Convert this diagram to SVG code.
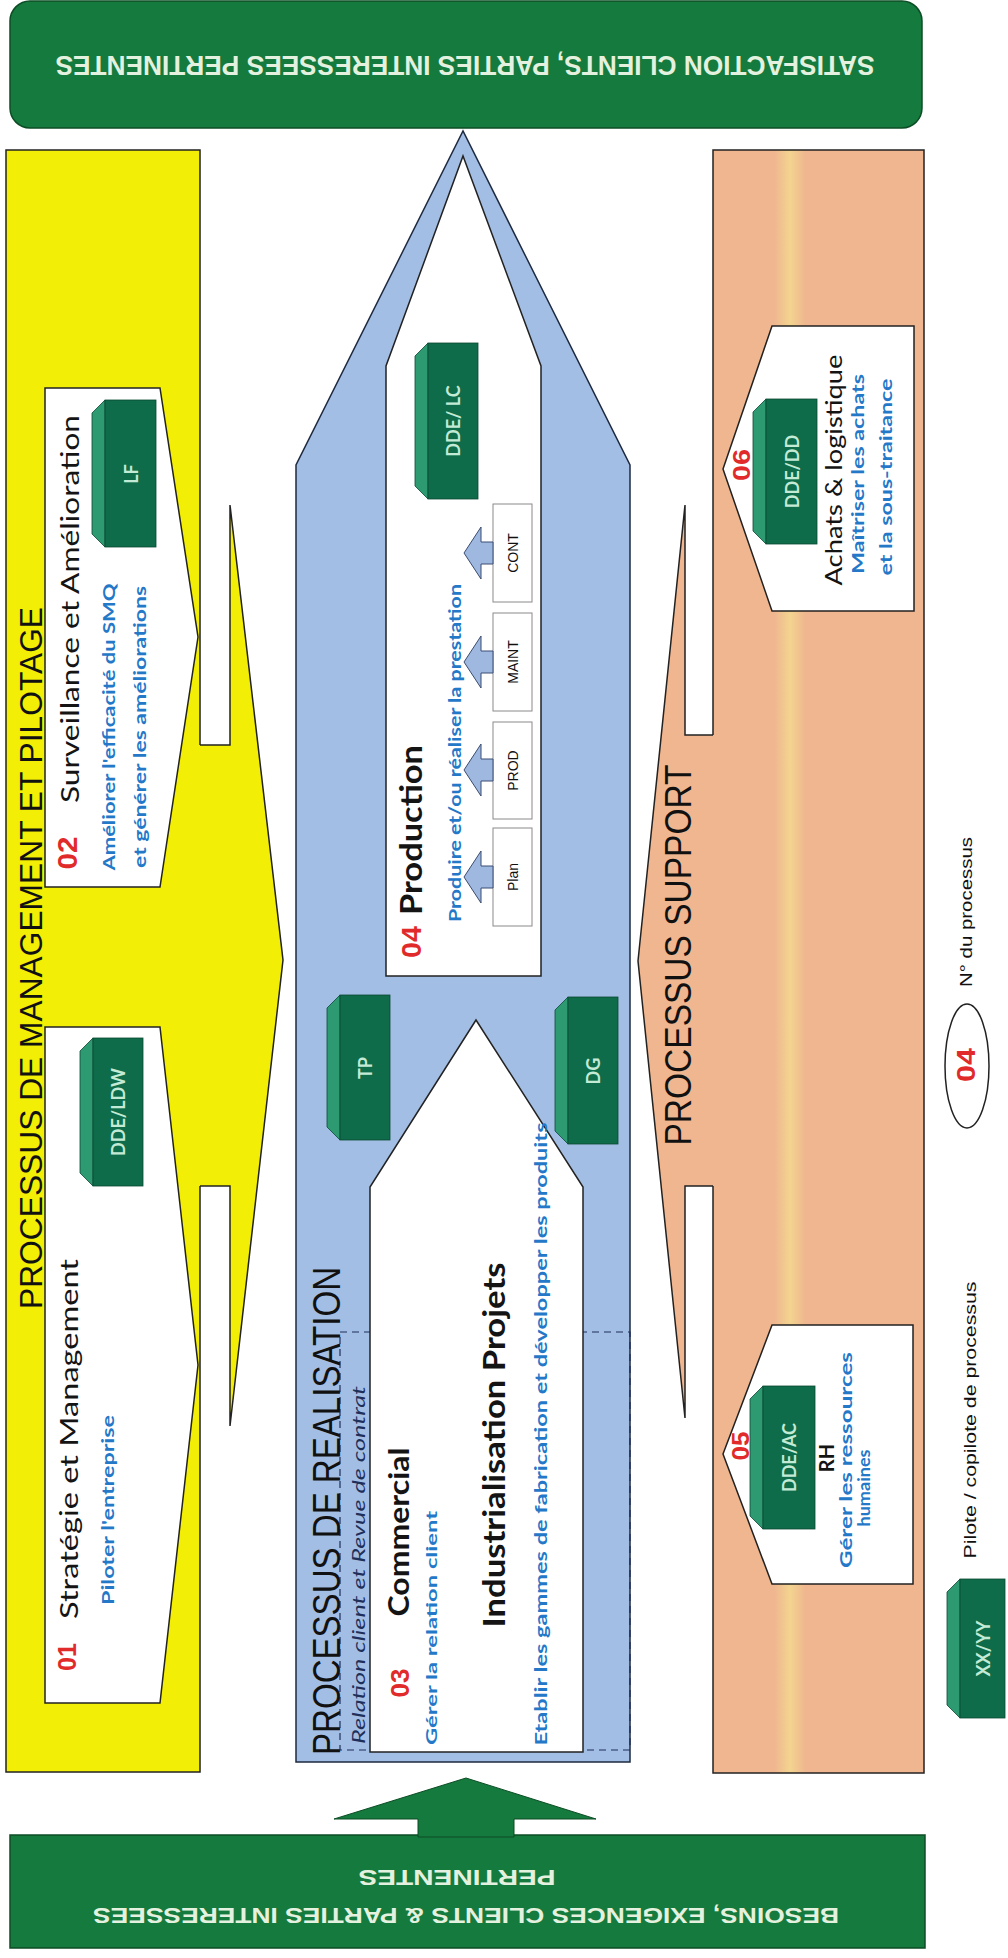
<svg xmlns="http://www.w3.org/2000/svg" width="1008" height="1958" viewBox="0 0 1008 1958">
<defs>
<linearGradient id="peach" x1="713" y1="0" x2="924" y2="0" gradientUnits="userSpaceOnUse">
<stop offset="0" stop-color="#efb68f"/>
<stop offset="0.29" stop-color="#efb68f"/>
<stop offset="0.365" stop-color="#f3d48f"/>
<stop offset="0.44" stop-color="#efb68f"/>
<stop offset="1" stop-color="#efb68f"/>
</linearGradient>
<style>
.bar{fill:#157a3d;stroke:#0c4d25;stroke-width:1.5}
.bartxt{font-family:"Liberation Sans",Arial,sans-serif;font-weight:bold;fill:#e4f1df;text-anchor:middle;dominant-baseline:central}
.ttl{font-family:"Liberation Sans",Arial,sans-serif;fill:#111;text-anchor:middle;dominant-baseline:central}
.node{fill:#fff;stroke:#222;stroke-width:1.5}
.num{font-family:"Liberation Sans",Arial,sans-serif;font-weight:bold;fill:#e12a2a;text-anchor:middle;dominant-baseline:central}
.name{font-family:Lato,"Open Sans",sans-serif;fill:#141414;text-anchor:middle;dominant-baseline:central}
.desc{font-family:Lato,"Open Sans",sans-serif;font-weight:bold;fill:#2478c8;text-anchor:middle;dominant-baseline:central}
.side{fill:#2d9a72;stroke:#0a4a33;stroke-width:0.8}
.front{fill:#0e6c4a;stroke:#0a4a33;stroke-width:0.8}
.btxt{font-family:Lato,"Open Sans",sans-serif;font-weight:bold;fill:#c3ead5;text-anchor:middle;dominant-baseline:central;font-size:18px}
.sub{fill:#fff;stroke:#8a8a8a;stroke-width:1}
.subtxt{font-family:"Liberation Sans",Arial,sans-serif;fill:#111;text-anchor:middle;dominant-baseline:central;font-size:14px}
.sarrow{fill:#9fb8e0;stroke:#3a4c70;stroke-width:1}
.outline{fill:none;stroke:#222;stroke-width:1.5}
.leg{font-family:"Liberation Sans",Arial,sans-serif;fill:#111;text-anchor:middle;dominant-baseline:central;font-size:16px}
</style>
</defs>
<rect width="1008" height="1958" fill="#ffffff"/>

<!-- Top bar -->
<g id="satisfaction">
<rect class="bar" x="10" y="1" width="912" height="127" rx="20"/>
<text class="bartxt" x="465" y="65" font-size="27" transform="rotate(180 465 65)" textLength="819" lengthAdjust="spacingAndGlyphs">SATISFACTION CLIENTS, PARTIES INTERESSEES PERTINENTES</text>
</g>

<!-- Management column -->
<g id="management">
<rect x="6" y="150" width="194" height="1622" fill="#f2ee05" stroke="#222" stroke-width="1.5"/>
<polygon points="195,745 230,745 230,505 283,960 230,1426 230,1186 195,1186" fill="#f2ee05"/>
<polyline class="outline" points="200,745 230,745 230,505 283,960 230,1426 230,1186 200,1186"/>
<text class="ttl" x="31" y="958" font-size="32" transform="rotate(-90 31 958)" textLength="702" lengthAdjust="spacingAndGlyphs">PROCESSUS DE MANAGEMENT ET PILOTAGE</text>
</g>

<g id="node01">
<polygon class="node" points="45,1027 160,1027 198,1365 160,1703 45,1703"/>
<text class="num" x="67" y="1657" font-size="26" transform="rotate(-90 67 1657)" textLength="28" lengthAdjust="spacingAndGlyphs">01</text>
<text class="name" x="68" y="1439" font-size="25" transform="rotate(-90 68 1439)" textLength="360" lengthAdjust="spacingAndGlyphs">Stratégie et Management</text>
<text class="desc" x="107" y="1510" font-size="17" transform="rotate(-90 107 1510)" textLength="190" lengthAdjust="spacingAndGlyphs">Piloter l'entreprise</text>
<polygon class="side" points="80,1051 93,1038 93,1186 80,1173"/>
<rect class="front" x="93" y="1038" width="50" height="148"/>
<text class="btxt" x="118" y="1112" transform="rotate(-90 118 1112)">DDE/LDW</text>
</g>

<g id="node02">
<polygon class="node" points="45,388 160,388 198,637 160,887 45,887"/>
<text class="num" x="67" y="853" font-size="28" transform="rotate(-90 67 853)" textLength="33" lengthAdjust="spacingAndGlyphs">02</text>
<text class="name" x="69" y="609" font-size="25" transform="rotate(-90 69 609)" textLength="388" lengthAdjust="spacingAndGlyphs">Surveillance et Amélioration</text>
<text class="desc" x="108" y="727" font-size="17" transform="rotate(-90 108 727)" textLength="287" lengthAdjust="spacingAndGlyphs">Améliorer l'efficacité du SMQ</text>
<text class="desc" x="139" y="727" font-size="17" transform="rotate(-90 139 727)" textLength="282" lengthAdjust="spacingAndGlyphs">et générer les améliorations</text>
<polygon class="side" points="92,413 105,400 105,547 92,534"/>
<rect class="front" x="105" y="400" width="51" height="147"/>
<text class="btxt" x="130.5" y="474" transform="rotate(-90 130.5 474)">LF</text>
</g>

<!-- Realisation column -->
<g id="realisation">
<polygon points="296,1762 296,465 463,131 630,465 630,1762" fill="#a3bee4" stroke="#1e2a40" stroke-width="1.5"/>
<rect x="340" y="1332" width="290" height="418" fill="none" stroke="#1e2f5a" stroke-width="1.2" stroke-dasharray="7,5"/>
<text class="ttl" x="327" y="1511" font-size="38" transform="rotate(-90 327 1511)" textLength="488" lengthAdjust="spacingAndGlyphs">PROCESSUS DE REALISATION</text>
<text x="358" y="1565" font-family="Lato,'Open Sans',sans-serif" font-style="italic" font-size="17" fill="#1e2f5a" text-anchor="middle" dominant-baseline="central" transform="rotate(-90 358 1565)" textLength="358" lengthAdjust="spacingAndGlyphs">Relation client et Revue de contrat</text>
</g>

<g id="node03">
<polygon class="node" points="370,1752 370,1187 476,1020 583,1187 583,1752"/>
<text class="num" x="400" y="1683" font-size="26" transform="rotate(-90 400 1683)" textLength="29" lengthAdjust="spacingAndGlyphs">03</text>
<text class="name" x="398" y="1532" font-size="28" font-weight="bold" transform="rotate(-90 398 1532)" textLength="169" lengthAdjust="spacingAndGlyphs">Commercial</text>
<text class="desc" x="430" y="1628" font-size="16" transform="rotate(-90 430 1628)" textLength="234" lengthAdjust="spacingAndGlyphs">Gérer la relation client</text>
<text class="name" x="493" y="1445" font-size="30" font-weight="bold" transform="rotate(-90 493 1445)" textLength="365" lengthAdjust="spacingAndGlyphs">Industrialisation Projets</text>
<text class="desc" x="540" y="1434" font-size="17" transform="rotate(-90 540 1434)" textLength="623" lengthAdjust="spacingAndGlyphs">Etablir les gammes de fabrication et développer les produits</text>
</g>

<g id="pilot-tp">
<polygon class="side" points="327,1008 340,995 340,1140 327,1127"/>
<rect class="front" x="340" y="995" width="50" height="145"/>
<text class="btxt" x="365" y="1068" transform="rotate(-90 365 1068)">TP</text>
</g>
<g id="pilot-dg">
<polygon class="side" points="555,1010 568,997 568,1144 555,1131"/>
<rect class="front" x="568" y="997" width="50" height="147"/>
<text class="btxt" x="593" y="1071" transform="rotate(-90 593 1071)">DG</text>
</g>

<g id="node04">
<polygon class="node" points="386,976 386,366 463,156 541,366 541,976"/>
<text class="num" x="411" y="942" font-size="28" transform="rotate(-90 411 942)" textLength="32" lengthAdjust="spacingAndGlyphs">04</text>
<text class="name" x="410" y="830" font-size="30" font-weight="bold" transform="rotate(-90 410 830)" textLength="170" lengthAdjust="spacingAndGlyphs">Production</text>
<text class="desc" x="454" y="753" font-size="17" transform="rotate(-90 454 753)" textLength="338" lengthAdjust="spacingAndGlyphs">Produire et/ou réaliser la prestation</text>
<polygon class="side" points="415,356 428,343 428,499 415,486"/>
<rect class="front" x="428" y="343" width="50" height="156"/>
<text class="btxt" x="453" y="421" transform="rotate(-90 453 421)">DDE/ LC</text>
</g>

<g id="sub-plan">
<rect class="sub" x="493" y="828" width="39" height="98"/>
<text class="subtxt" x="512.5" y="877" transform="rotate(-90 512.5 877)">Plan</text>
</g>
<g id="sub-prod">
<rect class="sub" x="493" y="722" width="39" height="97"/>
<text class="subtxt" x="512.5" y="770.5" transform="rotate(-90 512.5 770.5)">PROD</text>
</g>
<g id="sub-maint">
<rect class="sub" x="493" y="613" width="39" height="98"/>
<text class="subtxt" x="512.5" y="662" transform="rotate(-90 512.5 662)">MAINT</text>
</g>
<g id="sub-cont">
<rect class="sub" x="493" y="504" width="39" height="98"/>
<text class="subtxt" x="512.5" y="553" transform="rotate(-90 512.5 553)">CONT</text>
</g>

<g id="connectors">
<polygon class="sarrow" points="464,877 481,851 481,866 493,866 493,888 481,888 481,903"/>
<polygon class="sarrow" points="464,770 481,744 481,759 493,759 493,781 481,781 481,796"/>
<polygon class="sarrow" points="464,662 481,636 481,651 493,651 493,673 481,673 481,688"/>
<polygon class="sarrow" points="464,553 481,527 481,542 493,542 493,564 481,564 481,579"/>
</g>

<!-- Support column -->
<g id="support">
<rect x="713" y="150" width="211" height="1623" fill="url(#peach)" stroke="#222" stroke-width="1.5"/>
<polygon points="718,735 685,735 685,505 638,961 685,1418 685,1186 718,1186" fill="#efb68f"/>
<polyline class="outline" points="713,735 685,735 685,505 638,961 685,1418 685,1186 713,1186"/>
<text class="ttl" x="678" y="955" font-size="37" transform="rotate(-90 678 955)" textLength="381" lengthAdjust="spacingAndGlyphs">PROCESSUS SUPPORT</text>
</g>

<g id="node06">
<polygon class="node" points="772,326 914,326 914,611 772,611 723,469"/>
<polygon class="side" points="753,412 766,399 766,544 753,531"/>
<rect class="front" x="766" y="399" width="51" height="145"/>
<text class="btxt" x="791.5" y="471.5" transform="rotate(-90 791.5 471.5)">DDE/DD</text>
<text class="num" x="741" y="465" font-size="24" transform="rotate(-90 741 465)" textLength="32" lengthAdjust="spacingAndGlyphs">06</text>
<text class="name" x="832" y="470" font-size="24" transform="rotate(-90 832 470)" textLength="231" lengthAdjust="spacingAndGlyphs">Achats &amp; logistique</text>
<text class="desc" x="857" y="474" font-size="17" transform="rotate(-90 857 474)" textLength="200" lengthAdjust="spacingAndGlyphs">Maîtriser les achats</text>
<text class="desc" x="885" y="477" font-size="17" transform="rotate(-90 885 477)" textLength="197" lengthAdjust="spacingAndGlyphs">et la sous-traitance</text>
</g>

<g id="node05">
<polygon class="node" points="772,1325 913,1325 913,1584 772,1584 723,1454"/>
<polygon class="side" points="750,1399 763,1386 763,1529 750,1516"/>
<rect class="front" x="763" y="1386" width="52" height="143"/>
<text class="btxt" x="789" y="1457.5" transform="rotate(-90 789 1457.5)">DDE/AC</text>
<text class="num" x="740" y="1446" font-size="24" transform="rotate(-90 740 1446)" textLength="29" lengthAdjust="spacingAndGlyphs">05</text>
<text class="name" x="826" y="1458" font-size="20" font-weight="bold" transform="rotate(-90 826 1458)">RH</text>
<text class="desc" x="845" y="1460" font-size="17" transform="rotate(-90 845 1460)" textLength="216" lengthAdjust="spacingAndGlyphs">Gérer les ressources</text>
<text class="desc" x="863" y="1488" font-size="17" transform="rotate(-90 863 1488)" textLength="77" lengthAdjust="spacingAndGlyphs">humaines</text>
</g>

<!-- Bottom bar -->
<g id="besoins">
<rect class="bar" x="10" y="1835" width="915" height="113"/>
<polygon points="334,1819 466,1778 596,1819 514,1819 514,1837 418,1837 418,1819" fill="#157a3d" stroke="#0c4d25" stroke-width="1"/>
<text class="bartxt" x="466" y="1915" font-size="22" transform="rotate(180 466 1915)" textLength="746" lengthAdjust="spacingAndGlyphs">BESOINS, EXIGENCES CLIENTS &amp; PARTIES INTERESSEES</text>
<text class="bartxt" x="457" y="1877" font-size="22" transform="rotate(180 457 1877)" textLength="197" lengthAdjust="spacingAndGlyphs">PERTINENTES</text>
</g>

<!-- Legend -->
<g id="legend-number">
<ellipse cx="967" cy="1066" rx="22" ry="62" fill="#fff" stroke="#222" stroke-width="1.5"/>
<text class="num" x="966" y="1065" font-size="26" transform="rotate(-90 966 1065)" textLength="34" lengthAdjust="spacingAndGlyphs">04</text>
<text class="leg" x="966" y="912" transform="rotate(-90 966 912)" textLength="150" lengthAdjust="spacingAndGlyphs">N° du processus</text>
</g>
<g id="legend-pilot">
<polygon class="side" points="947,1592 960,1579 960,1718 947,1705"/>
<rect class="front" x="960" y="1579" width="45" height="139"/>
<text class="btxt" x="982.5" y="1648.5" transform="rotate(-90 982.5 1648.5)">XX/YY</text>
<text class="leg" x="970" y="1420" transform="rotate(-90 970 1420)" textLength="277" lengthAdjust="spacingAndGlyphs">Pilote / copilote  de processus</text>
</g>
</svg>
